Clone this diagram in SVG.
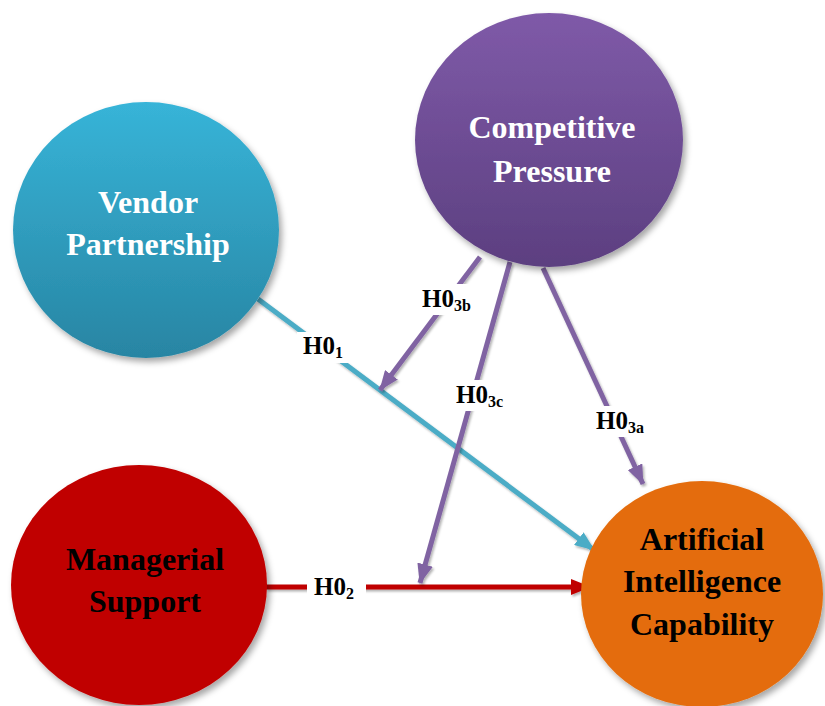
<svg xmlns="http://www.w3.org/2000/svg" width="825" height="706" viewBox="0 0 825 706">
  <defs>
    <linearGradient id="gBlue" x1="0" y1="0" x2="0" y2="1">
      <stop offset="0" stop-color="#37B4D8"/>
      <stop offset="1" stop-color="#2885A3"/>
    </linearGradient>
    <linearGradient id="gPurple" x1="0" y1="0" x2="0" y2="1">
      <stop offset="0" stop-color="#7F5AA8"/>
      <stop offset="1" stop-color="#5C3F80"/>
    </linearGradient>
    <filter id="shadow" x="-20%" y="-20%" width="140%" height="140%">
      <feDropShadow dx="3" dy="4" stdDeviation="3" flood-color="#000" flood-opacity="0.35"/>
    </filter>
    <!-- user-space region so that horizontal lines keep their shadow -->
    <filter id="lineShadow" filterUnits="userSpaceOnUse" x="0" y="0" width="825" height="706">
      <feDropShadow dx="1.5" dy="2" stdDeviation="1.2" flood-color="#000" flood-opacity="0.3"/>
    </filter>
    <marker id="arrPurple" viewBox="0 0 20 16" refX="19" refY="8" markerWidth="20" markerHeight="16" markerUnits="userSpaceOnUse" orient="auto">
      <path d="M0,0 L20,8 L0,16 Z" fill="#8064A2"/>
    </marker>
    <marker id="arrBlue" viewBox="0 0 20 16" refX="19" refY="8" markerWidth="20" markerHeight="16" markerUnits="userSpaceOnUse" orient="auto">
      <path d="M0,0 L20,8 L0,16 Z" fill="#4BACC6"/>
    </marker>
    <marker id="arrRed" viewBox="0 0 20 16" refX="19" refY="8" markerWidth="20" markerHeight="16" markerUnits="userSpaceOnUse" orient="auto">
      <path d="M0,0 L20,8 L0,16 Z" fill="#C00000"/>
    </marker>
  </defs>
  <style>
    .node { filter: url(#shadow); }
    .nt { font-family: "Liberation Serif", "Times New Roman", serif; font-weight: bold; font-size: 32px; text-anchor: middle; }
    .white { fill: #FFFFFF; }
    .black { fill: #000000; }
    .edge { fill: none; stroke-width: 5; filter: url(#lineShadow); }
    .lbl { font-family: "Liberation Serif", "Times New Roman", serif; font-weight: bold; font-size: 25px; fill: #000; }
    .sub { font-size: 16px; }
    .lblbg { fill: #FFFFFF; }
  </style>

  <rect x="0" y="0" width="825" height="706" fill="#FFFFFF"/>

  <!-- connectors -->
  <g id="connectors">
    <line class="edge" x1="258" y1="299" x2="594" y2="550" stroke="#4BACC6" marker-end="url(#arrBlue)"/>
    <line class="edge" x1="266" y1="587" x2="590" y2="587" stroke="#C00000" marker-end="url(#arrRed)"/>
    <line class="edge" x1="480" y1="257" x2="380" y2="390" stroke="#8064A2" marker-end="url(#arrPurple)"/>
    <line class="edge" x1="510" y1="262" x2="420" y2="583" stroke="#8064A2" marker-end="url(#arrPurple)"/>
    <line class="edge" x1="543" y1="268" x2="643" y2="484" stroke="#8064A2" marker-end="url(#arrPurple)"/>

    <!-- hypothesis labels -->
    <rect class="lblbg" x="297" y="332" width="54" height="31"/>
    <text class="lbl" x="303" y="354">H0<tspan class="sub" dy="4">1</tspan></text>

    <rect class="lblbg" x="307" y="572" width="59" height="31"/>
    <text class="lbl" x="314" y="595">H0<tspan class="sub" dy="4">2</tspan></text>

    <rect class="lblbg" x="418" y="284" width="62" height="31"/>
    <text class="lbl" x="422" y="307">H0<tspan class="sub" dy="4">3b</tspan></text>

    <rect class="lblbg" x="452" y="380" width="60" height="31"/>
    <text class="lbl" x="456" y="403">H0<tspan class="sub" dy="4">3c</tspan></text>

    <rect class="lblbg" x="592" y="406" width="60" height="31"/>
    <text class="lbl" x="596" y="429">H0<tspan class="sub" dy="4">3a</tspan></text>
  </g>

  <!-- nodes -->
  <g id="vendor-partnership">
    <ellipse class="node" cx="146" cy="230" rx="133" ry="128" fill="url(#gBlue)"/>
    <text class="nt white" x="148" y="213">Vendor</text>
    <text class="nt white" x="148" y="255">Partnership</text>
  </g>

  <g id="competitive-pressure">
    <ellipse class="node" cx="549" cy="140" rx="134" ry="127" fill="url(#gPurple)"/>
    <text class="nt white" x="552" y="138">Competitive</text>
    <text class="nt white" x="552" y="182">Pressure</text>
  </g>

  <g id="managerial-support">
    <ellipse class="node" cx="139" cy="585" rx="128" ry="120" fill="#C00000"/>
    <text class="nt black" x="145" y="570">Managerial</text>
    <text class="nt black" x="145" y="612">Support</text>
  </g>

  <g id="ai-capability">
    <ellipse class="node" cx="702" cy="594" rx="121" ry="113" fill="#E46C0A"/>
    <text class="nt black" x="702" y="550">Artificial</text>
    <text class="nt black" x="702" y="592">Intelligence</text>
    <text class="nt black" x="702" y="635">Capability</text>
  </g>
</svg>
